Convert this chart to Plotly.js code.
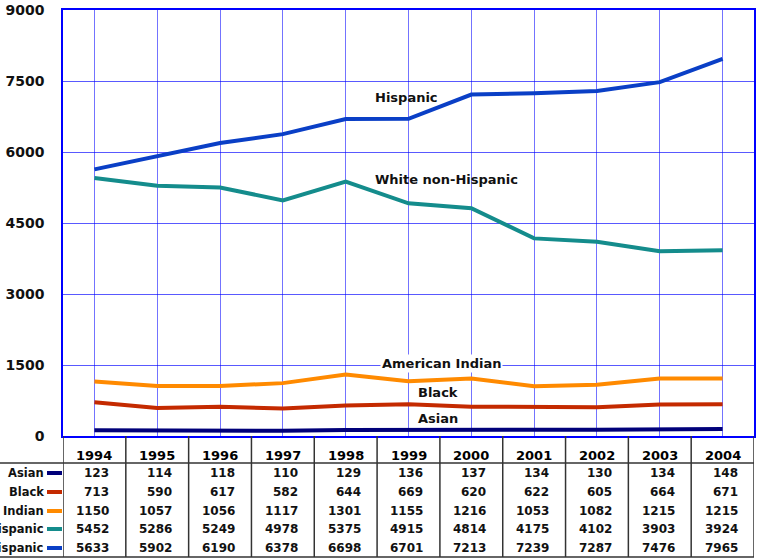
<!DOCTYPE html>
<html>
<head>
<meta charset="utf-8">
<script src="https://cdn.plot.ly/plotly-3.0.1.min.js"></script>
<style>
  body { margin: 0; background: #fff; }
  #plot { width: 757px; height: 559px; }
</style>
</head>
<body>
<div id="plot"></div>
<script>
// data
var years = ["1994", "1995", "1996", "1997", "1998", "1999", "2000", "2001", "2002", "2003", "2004"];
var asian = [123, 114, 118, 110, 129, 136, 137, 134, 130, 134, 148];
var black = [713, 590, 617, 582, 644, 669, 620, 622, 605, 664, 671];
var amIndian = [1150, 1057, 1056, 1117, 1301, 1155, 1216, 1053, 1082, 1215, 1215];
var whiteNonHisp = [5452, 5286, 5249, 4978, 5375, 4915, 4814, 4175, 4102, 3903, 3924];
var hispanic = [5633, 5902, 6190, 6378, 6698, 6701, 7213, 7239, 7287, 7476, 7965];

var rowNames = ["Asian", "Black", "Indian", "White non-Hispanic", "Hispanic"];
var rowColors = ["#00007a", "#c42a00", "#ff8a00", "#148c8c", "#0a3fc6"];
var rowValues = [asian, black, amIndian, whiteNonHisp, hispanic];

// line labels inside the plot
var lineLabels = ["Hispanic", "White non-Hispanic", "American Indian", "Black", "Asian"];
var labelX = [4.97, 5.6, 5.53, 5.47, 5.47];
var labelY = [7160, 5410, 1540, 910, 360];

var fontBold = "DejaVu Sans, Verdana, sans-serif";

// trace per series
var data = [];
for (var i = 0; i < rowNames.length; i++) {
  data.push({
    x: years,
    y: rowValues[i],
    name: rowNames[i],
    type: "scatter",
    mode: "lines",
    line: { color: rowColors[i], width: 4 },
    hoverinfo: "x+y+name"
  });
}

// table underneath: pixel -> paper helpers
var plotTop = 10, plotH = 426, plotLeft = 63, plotW = 691;
function py(pix) { return (plotTop + plotH - pix) / plotH; }
function px(pix) { return (pix - plotLeft) / plotW; }

var rowY = [473, 492, 511, 529, 548];
var annotations = [];
var shapes = [];

// year header
years.forEach(function (yr, j) {
  annotations.push({
    xref: "x", yref: "paper", x: j, y: py(455), yanchor: "middle",
    text: "<b>" + yr + "</b>", showarrow: false,
    font: { family: fontBold, size: 13, color: "#000" }
  });
});

// table values + row labels with legend keys
rowValues.forEach(function (vals, r) {
  vals.forEach(function (v, j) {
    annotations.push({
      xref: "x", yref: "paper", x: j + 0.27, y: py(rowY[r]),
      xanchor: "right", yanchor: "middle", text: "<b>" + v + "</b>", showarrow: false,
      font: { family: fontBold, size: 12, color: "#111" }
    });
  });
  annotations.push({
    xref: "paper", yref: "paper", x: px(46), y: py(rowY[r]),
    xanchor: "right", yanchor: "middle", text: "<b>" + rowNames[r] + "</b>", showarrow: false,
    font: { family: fontBold, size: 11.5, color: "#111" }
  });
  shapes.push({
    type: "line", xref: "paper", yref: "paper",
    x0: px(47), x1: px(62), y0: py(rowY[r]), y1: py(rowY[r]),
    line: { color: rowColors[r], width: 4 }
  });
});

// column borders
for (var k = 0; k <= years.length; k++) {
  shapes.push({
    type: "line", xref: "x", yref: "paper",
    x0: k - 0.5, x1: k - 0.5, y0: py(436), y1: py(557),
    line: { color: "#333", width: 1.5 }
  });
}
shapes.push({ type: "line", xref: "paper", yref: "paper", x0: px(0), x1: 1, y0: py(463), y1: py(463), line: { color: "#333", width: 1.5 } });
shapes.push({ type: "line", xref: "paper", yref: "paper", x0: px(0), x1: 1, y0: py(557), y1: py(557), line: { color: "#333", width: 1.5 } });

// line labels
lineLabels.forEach(function (t, i) {
  annotations.push({
    xref: "x", yref: "y", x: labelX[i], y: labelY[i],
    text: "<b>" + t + "</b>", showarrow: false,
    bgcolor: t === "American Indian" ? "#fff" : "rgba(0,0,0,0)",
    font: { family: fontBold, size: 13, color: "#111" }
  });
});

var layout = {
  width: 757,
  height: 559,
  margin: { l: 63, r: 3, t: 10, b: 123 },
  showlegend: false,
  paper_bgcolor: "#fff",
  plot_bgcolor: "#fff",
  xaxis: {
    type: "category",
    range: [-0.5, 10.5],
    showticklabels: false,
    showgrid: true,
    gridcolor: "rgba(0,0,255,0.55)",
    gridwidth: 1,
    zeroline: false,
    showline: true,
    mirror: true,
    linecolor: "#0000ff",
    linewidth: 1.5,
    ticks: ""
  },
  yaxis: {
    range: [0, 9000],
    tickvals: [0, 1500, 3000, 4500, 6000, 7500, 9000],
    showgrid: true,
    gridcolor: "rgba(0,0,255,0.65)",
    gridwidth: 1,
    zeroline: false,
    showline: true,
    mirror: true,
    linecolor: "#0000ff",
    linewidth: 1.5,
    ticks: "",
    ticklabelstandoff: 14,
    tickfont: { family: fontBold, size: 14, color: "#111", weight: "bold" }
  },
  annotations: annotations,
  shapes: shapes
};

Plotly.newPlot("plot", data, layout, { displayModeBar: false });
</script>
</body>
</html>
